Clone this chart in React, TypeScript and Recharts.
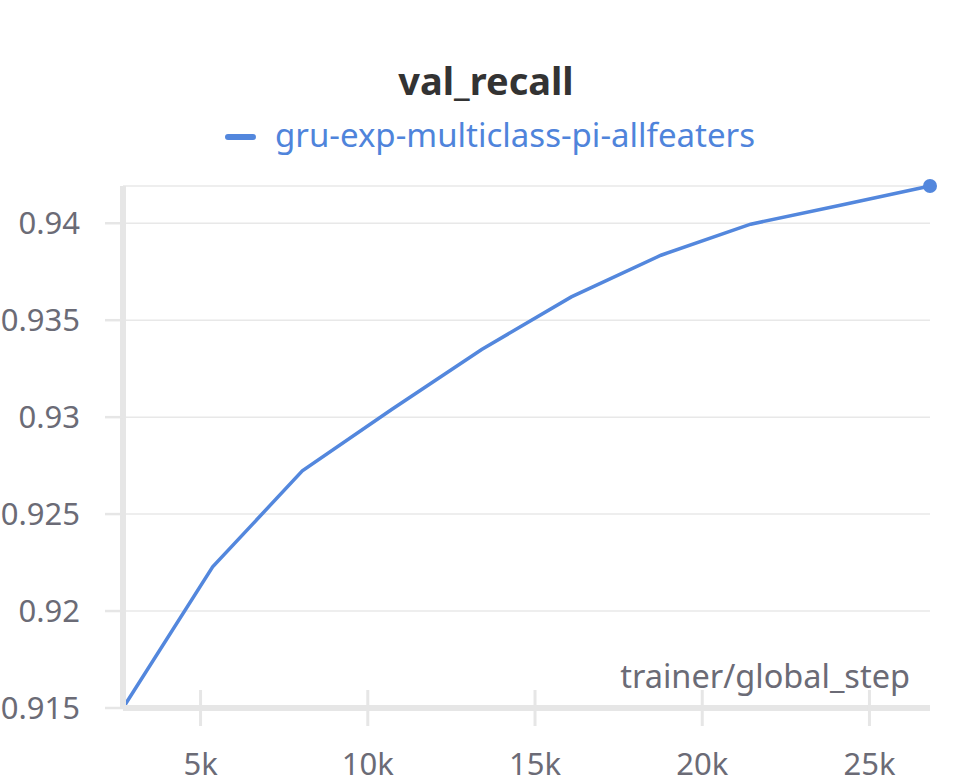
import React from 'react';
import { LineChart, Line, XAxis, YAxis, CartesianGrid } from 'recharts';

const steps = [2681, 5362, 8043, 10724, 13405, 16086, 18767, 21448, 24129, 26810];
const valRecall = [0.915, 0.92228, 0.92723, 0.93041, 0.93349, 0.9362, 0.93835, 0.93995, 0.94093, 0.94192];
const yTicks = [0.915, 0.92, 0.925, 0.93, 0.935, 0.94];
const xTicks = [5000, 10000, 15000, 20000, 25000];
const xTickLabels = ['5k', '10k', '15k', '20k', '25k'];
const seriesName = 'gru-exp-multiclass-pi-allfeaters';
const chartTitle = 'val_recall';
const xAxisTitle = 'trainer/global_step';

const data = steps.map((s, i) => ({ step: s, value: valRecall[i] }));

const FONT = '"Noto Sans", sans-serif';
const TICK_COLOR = '#6b6b76';
const AXIS_COLOR = '#e6e6e6';
const LINE_COLOR = '#5387dd';

const XTick = (props: any) => {
  const { x, y, payload } = props;
  const idx = xTicks.indexOf(payload.value);
  return (
    <g>
      <line x1={x} x2={x} y1={y - 18} y2={y + 18} stroke={AXIS_COLOR} strokeWidth={3} />
      <text x={x} y={y + 67} textAnchor="middle" fontSize={31} fill={TICK_COLOR} fontFamily={FONT}>
        {idx >= 0 ? xTickLabels[idx] : String(payload.value)}
      </text>
    </g>
  );
};

const lastIndex = data.length - 1;
const renderDot = (props: any) => {
  const { cx, cy, index } = props;
  if (index !== lastIndex) return <g key={`d${index}`} />;
  return <circle key={`d${index}`} cx={cx} cy={cy} r={7} fill={LINE_COLOR} />;
};

export default function App() {
  return (
    <div style={{ position: 'absolute', left: 0, top: 0, width: 972, height: 783, background: '#fff' }}>
      <LineChart width={972} height={783} data={data} margin={{ top: 186, right: 42, bottom: 74, left: 122 }}>
        <CartesianGrid horizontal vertical={false} stroke="#e8e8e8" strokeWidth={1.5} />
        <XAxis
          dataKey="step"
          type="number"
          domain={['dataMin', 'dataMax']}
          ticks={xTicks}
          height={1}
          tickSize={0}
          tickMargin={0}
          tickLine={false}
          axisLine={{ stroke: AXIS_COLOR, strokeWidth: 6 }}
          tick={<XTick />}
          interval={0}
        />
        <YAxis
          type="number"
          domain={['dataMin', 'dataMax']}
          ticks={yTicks}
          width={1}
          tickSize={18}
          tickMargin={25}
          tickLine={{ stroke: AXIS_COLOR, strokeWidth: 2.5 }}
          axisLine={{ stroke: AXIS_COLOR, strokeWidth: 6 }}
          tick={{ fontSize: 31, fill: TICK_COLOR, fontFamily: FONT }}
          interval={0}
        />
        <Line
          type="linear"
          dataKey="value"
          stroke={LINE_COLOR}
          strokeWidth={3.5}
          dot={renderDot}
          activeDot={false}
          isAnimationActive={false}
        />
      </LineChart>
      <svg
        width={972}
        height={783}
        style={{ position: 'absolute', left: 0, top: 0, pointerEvents: 'none' }}
      >
        <text x={486} y={95} textAnchor="middle" fontSize={38} fontWeight="bold" fill="#333333" fontFamily={FONT}>
          {chartTitle}
        </text>
        <line x1={228} x2={253} y1={137} y2={137} stroke={LINE_COLOR} strokeWidth={6} strokeLinecap="round" />
        <text x={275} y={147} fontSize={33} fill="#4f84db" fontFamily={FONT}>
          {seriesName}
        </text>
        <text x={910} y={688} textAnchor="end" fontSize={32.5} fill={TICK_COLOR} fontFamily={FONT}>
          {xAxisTitle}
        </text>
      </svg>
    </div>
  );
}
